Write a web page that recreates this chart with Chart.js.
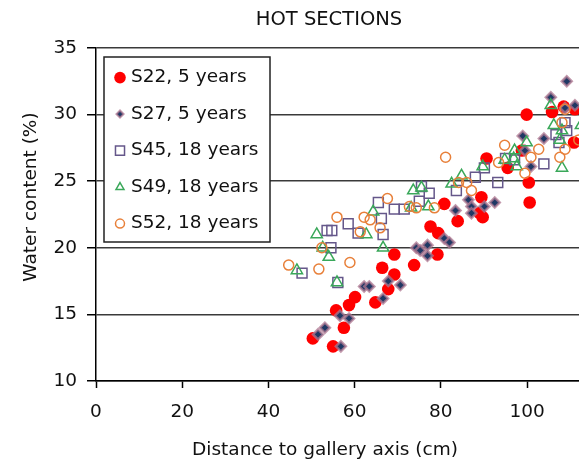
<!DOCTYPE html>
<html><head><meta charset="utf-8">
<script src="https://cdn.jsdelivr.net/npm/chart.js@4"></script>
<style>
html,body{margin:0;padding:0;overflow:hidden;background:#fff;width:579px;height:462px}
#wrap{position:absolute;left:0;top:0;width:658px;height:462px}
</style>
</head><body><div id="wrap"><canvas id="c" width="658" height="462"></canvas></div>
<script>
const chartTitle = 'HOT SECTIONS';
const xTitle = 'Distance to gallery axis (cm)';
const yTitle = 'Water content (%)';
const seriesLabels = ['S22, 5 years','S27, 5 years','S45, 18 years','S49, 18 years','S52, 18 years'];

const s22Distance = [50.3,55.0,55.7,57.5,58.7,60.1,64.8,66.4,67.8,69.2,69.2,73.8,77.6,79.4,79.2,80.8,83.9,89.0,89.7,89.4,90.6,95.5,100.4,100.6,99.9,98.8,105.8,108.5,111.1,110.9];
const s22Water    = [13.2,12.6,15.3,14.0,15.7,16.3,15.9,18.5,16.9,18.0,19.5,18.7,21.6,21.1,19.5,23.3,22.0,22.6,22.3,23.8,26.7,26.0,24.9,23.4,30.0,27.3,30.2,30.6,30.4,27.9];

const s27Distance = [51.5,53.1,56.6,58.7,56.8,62.2,63.4,66.6,67.8,70.6,74.3,75.2,76.9,76.9,80.8,82.0,83.4,86.4,87.1,87.1,90.1,92.5,99.0,99.5,100.9,103.9,105.5,108.8,109.2,111.1];
const s27Water    = [13.5,14.0,14.9,14.7,12.6,17.1,17.1,16.2,17.5,17.2,20.0,19.8,20.2,19.4,20.7,20.4,22.8,23.6,23.1,22.6,23.1,23.4,28.4,27.3,26.1,28.2,31.3,30.5,32.5,30.7];

const s45Distance = [47.8,53.6,54.7,54.5,56.1,58.5,60.8,65.5,66.2,66.6,69.2,71.5,75.0,75.5,77.3,83.6,88.0,90.1,93.2,95.0,97.1,103.9,106.7,107.4,108.8,109.2];
const s45Water    = [18.1,21.3,21.3,20.0,17.4,21.8,21.1,23.4,22.2,21.0,22.9,22.9,23.5,24.6,24.1,24.3,25.3,26.0,24.9,26.7,26.6,26.3,28.5,27.9,29.4,28.8];

const s49Distance = [46.6,51.2,52.6,54.0,55.9,62.7,64.3,66.6,73.1,73.6,75.5,77.1,82.5,84.8,89.7,94.8,96.9,97.1,97.6,99.9,105.5,106.2,107.6,108.1,108.1,112.5];
const s49Water    = [18.3,21.0,20.0,19.3,17.4,21.0,22.7,20.0,23.0,24.3,24.5,23.1,24.8,25.4,26.1,26.6,26.7,27.3,26.1,27.9,30.7,29.2,28.1,28.8,26.0,29.2];

const s52Distance = [44.7,51.7,52.4,55.9,58.9,61.3,62.2,63.6,65.9,67.6,72.7,74.3,78.5,81.1,84.1,86.0,87.1,93.4,94.8,99.5,100.9,102.7,107.6,108.8,108.1,108.8,112.0];
const s52Water    = [18.7,18.4,20.0,22.3,18.9,21.2,22.3,22.1,21.5,23.7,23.1,23.0,23.0,26.8,24.9,24.9,24.3,26.4,27.7,25.6,26.8,27.4,26.8,27.4,29.4,30.4,28.1];

const xTickStep = 20, yTickStep = 5;

const pts = (xs, ys) => xs.map((x, i) => ({x: x, y: ys[i]}));
const FONT = "'DejaVu Sans', sans-serif";
const FS = 18.5;
Chart.defaults.font.family = FONT;
Chart.defaults.font.size = FS;
Chart.defaults.color = '#111';

const styles = [
  {pointStyle:'circle', pointRadius:6.3, backgroundColor:'#ff0000', borderColor:'#ff0000', borderWidth:0, legendRadius:5.8},
  {pointStyle:'rectRot', pointRadius:5, backgroundColor:'#1f3864', borderColor:'rgba(175,120,145,0.75)', borderWidth:2.5, legendRadius:3.6},
  {pointStyle:'rect', pointRadius:7, backgroundColor:'rgba(0,0,0,0)', borderColor:'#65578a', borderWidth:1.5, legendRadius:6.4},
  {pointStyle:'triangle', pointRadius:6.5, backgroundColor:'rgba(0,0,0,0)', borderColor:'#3aa85a', borderWidth:1.5, legendRadius:4.6},
  {pointStyle:'circle', pointRadius:5, backgroundColor:'rgba(0,0,0,0)', borderColor:'#e8803a', borderWidth:1.5, legendRadius:4.5}
];
const seriesData = [pts(s22Distance,s22Water), pts(s27Distance,s27Water), pts(s45Distance,s45Water), pts(s49Distance,s49Water), pts(s52Distance,s52Water)];

const datasets = seriesLabels.map((lab, i) => Object.assign({
  label: lab, data: seriesData[i], order: 5 - i, pointHoverRadius: styles[i].pointRadius
}, styles[i]));

const decorPlugin = {
  id: 'decor',
  afterDatasetsDraw(chart) {
    const ctx = chart.ctx;
    ctx.save();
    const L = 104, T = 57, W = 166, H = 185;
    ctx.fillStyle = '#fff';
    ctx.fillRect(L, T, W, H);
    ctx.strokeStyle = '#222';
    ctx.lineWidth = 1.5;
    ctx.strokeRect(L, T, W, H);
    ctx.font = FS + 'px ' + FONT;
    ctx.textBaseline = 'middle';
    ctx.textAlign = 'left';
    chart.data.datasets.forEach((ds, i) => {
      const y = 77.6 + i * 36.5;
      ctx.fillStyle = ds.backgroundColor;
      ctx.strokeStyle = ds.borderColor;
      ctx.lineWidth = ds.pointStyle === 'rectRot' ? 2 : ds.borderWidth;
      Chart.helpers.drawPoint(ctx, {pointStyle: ds.pointStyle, radius: ds.legendRadius, borderWidth: ds.borderWidth, rotation: 0}, 120, y);
      ctx.fillStyle = '#111';
      ctx.fillText(ds.label, 131, y);
    });
    ctx.fillStyle = '#111';
    ctx.textAlign = 'center';
    ctx.fillText(xTitle, 325, 450);
    ctx.translate(31, 197);
    ctx.rotate(-Math.PI / 2);
    ctx.fillText(yTitle, 0, 0);
    ctx.restore();
  }
};

new Chart(document.getElementById('c'), {
  type: 'scatter',
  data: {datasets: datasets},
  options: {
    responsive: false,
    animation: false,
    events: [],
    layout: {padding: 0},
    plugins: {
      legend: {display: false},
      tooltip: {enabled: false},
      title: {display: true, text: chartTitle, font: {size: 19.5, weight: 'normal'}, color: '#111', padding: {top: 8, bottom: 16.6}}
    },
    scales: {
      x: {
        type: 'linear', min: 0, max: 128.4, bounds: 'data',
        ticks: {stepSize: xTickStep, padding: 13.5, color: '#111', includeBounds: false},
        grid: {drawOnChartArea: false, drawTicks: true, tickLength: 7, tickWidth: 1.5, tickColor: '#000'},
        border: {display: true, color: '#000', width: 1.5},
        afterFit(s) { s.height = 81; }
      },
      y: {
        type: 'linear', min: 10, max: 35,
        ticks: {stepSize: yTickStep, padding: 10, color: '#111'},
        grid: {color: '#3a3a3a', lineWidth: 1.5, drawTicks: true, tickLength: 9, tickWidth: 1.5, tickColor: '#000'},
        border: {display: true, color: '#000', width: 1.5},
        afterFit(s) { s.width = 96; }
      }
    }
  },
  plugins: [decorPlugin]
});
</script>
</body></html>
